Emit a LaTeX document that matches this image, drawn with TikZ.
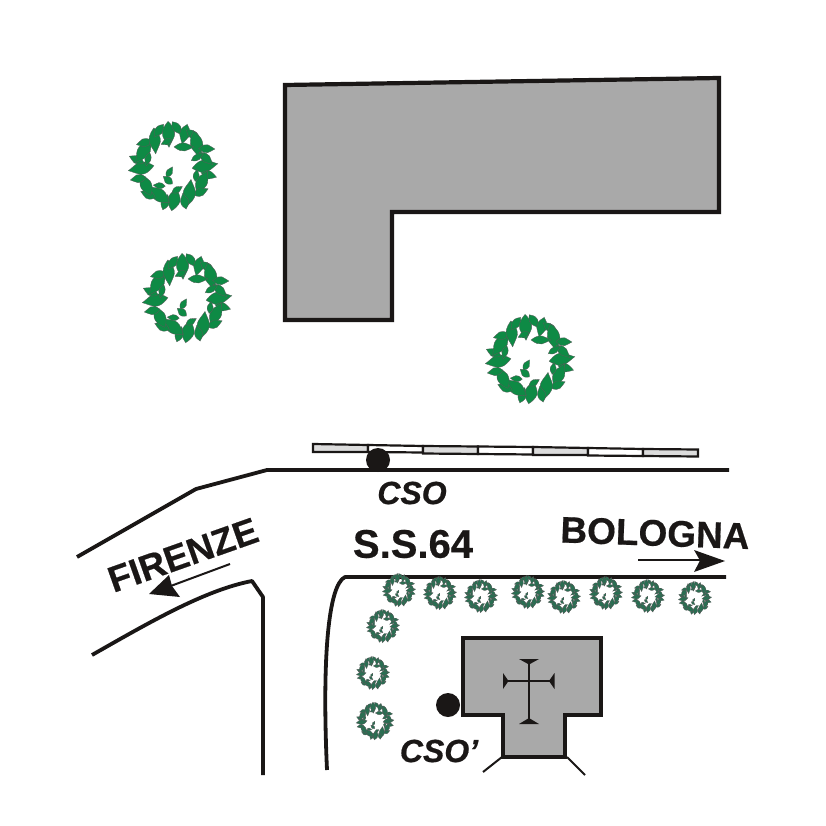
\documentclass[tikz,border=0pt]{standalone}
\usepackage{fontspec}
\setmainfont[BoldFeatures={FakeBold=0.5},BoldItalicFeatures={FakeBold=0.6}]{Liberation Sans}
\definecolor{bldg}{HTML}{A9A9A9}
\definecolor{ink}{HTML}{1A1716}
\definecolor{leafbig}{HTML}{0E8A45}
\definecolor{leafsmall}{HTML}{2A6E52}
\definecolor{strip}{HTML}{DCDCDC}
\newcommand{\leafat}[5]{%
  \path[leaf,shift={(#1:#2)},rotate=#1+#3] (-#4,0) .. controls (-#4*.5,#5) and (-#4*.2,#5*1.1) .. (#4*.1,#5) .. controls (#4*.4,#5*.8) and (#4*.7,#5*.3) .. (#4,0) .. controls (#4*.7,-#5*.3) and (#4*.4,-#5*.8) .. (#4*.1,-#5) .. controls (-#4*.2,-#5*1.1) and (-#4*.5,-#5) .. cycle;}
\tikzset{
  x=1pt,y=-1pt,
  roof/.style={draw=ink,line width=4.2pt,fill=bldg,line join=miter},
  road/.style={draw=ink,line width=3.8pt,line join=round},
  stripa/.style={draw=ink,line width=2.2pt,fill=strip},
  stripb/.style={draw=ink,line width=2.2pt,fill=white},
  spot/.style={circle,fill=ink,inner sep=0pt,minimum size=24pt},
  label/.style={font=\bfseries,text=ink,inner sep=0pt},
  arrowhead/.style={fill=ink,draw=none},
  thin line/.style={draw=ink,line width=2pt},
  pics/tree/.style n args={2}{code={
    \tikzset{leaf/.style={fill=#2,draw=gray!70!black,line width=.3pt}}
    \begin{scope}[scale=#1]
    \foreach \a/\r/\t/\l/\w in {
      0/32/10/13/6, 14/37/-30/8/4, 28/33/35/12/5.5, 43/38/-20/8/4, 58/31/25/13/6,
      72/37/30/8/4, 88/33/-10/12/6, 102/37/-30/8/4, 117/32/25/13/6, 131/38/25/8/4,
      146/33/-30/12/5.5, 160/37/30/8/4, 176/32/15/13/6, 190/37/-35/8/4, 205/33/30/13/6,
      219/37/-25/8/4, 234/31/40/13/5.5, 248/38/-15/8/4, 262/32/10/13/6, 276/38/30/8/4,
      290/34/-35/10/5, 304/37/20/9/4, 318/32/-35/14/6, 333/38/25/8/4, 347/34/-30/9/4,
      22/25/60/6/3, 80/24/-50/6/3, 125/24/50/6/3, 195/26/60/7/3, 255/25/-50/6/3, 300/22/60/10/4, 340/26/50/7/3}
      {\leafat{\a}{\r}{\t}{\l}{\w}}
    \leafat{120}{7}{-60}{6}{3}
    \leafat{110}{15}{30}{6}{3.5}
    \end{scope}
  }},
}
\begin{document}
\begin{tikzpicture}
\useasboundingbox (0,0) rectangle (826,826);
% main building
\draw[roof] (285,85) -- (719,78) -- (719,212) -- (392,212) -- (392,320) -- (285,320) -- cycle;
% large trees
\pic at (173,166) {tree={1}{leafbig}};
\pic at (187,298) {tree={1}{leafbig}};
\pic at (530,359) {tree={1}{leafbig}};
% strip of blocks
\draw[stripa] (313,444) -- (368,445) -- (368,452) -- (313,452) -- cycle;
\draw[stripb] (368,445) -- (423,446) -- (423,452.5) -- (368,452) -- cycle;
\draw[stripa] (423,446) -- (478,446.5) -- (478,454) -- (423,453.5) -- cycle;
\draw[stripb] (478,446.5) -- (533,447) -- (533,454.5) -- (478,454) -- cycle;
\draw[stripa] (533,447) -- (588,448) -- (588,455) -- (533,455) -- cycle;
\draw[stripb] (588,448) -- (643,449) -- (643,456) -- (588,455.5) -- cycle;
\draw[stripa] (643,449) -- (698,449.5) -- (698,456.5) -- (643,456) -- cycle;
% roads
\coordinate (ra) at (77,557); \coordinate (rb) at (196,489); \coordinate (rc) at (267,470); \coordinate (rd) at (729,470);
\draw[road] (ra) -- (rb) -- (rc) -- (rd);
\coordinate (re) at (345,577); \coordinate (rf) at (726,577); \coordinate (rg) at (327,770);
\draw[road] (rf) -- (re) .. controls (328,585) and (322,660) .. (rg);
\coordinate (rh) at (92,655); \coordinate (ri) at (252,581); \coordinate (rj) at (263,597); \coordinate (rk) at (263,775);
\draw[road] (rh) .. controls (150,622) and (205,590) .. (ri) -- (rj) -- (rk);
% CSO
\node[spot] (cso) at (378,460) {};
\node[label,font=\bfseries\itshape\fontsize{32}{32}\selectfont] (csolab) at (412,493) {CSO};
% small trees
\foreach \x/\y in {399/590,440/593,481/596,528/592,564/597,606/593,648/596,695/598,383/626,373/673}
  {\pic at (\x,\y) {tree={.37}{leafsmall}};}
\pic at (375,721) {tree={.42}{leafsmall}};
% church
\draw[roof] (463,638) -- (601,638) -- (601,715) -- (565,715) -- (565,757) -- (503,757) -- (503,715) -- (463,715) -- cycle;
\coordinate (cta) at (529,660); \coordinate (ctb) at (529,723); \coordinate (cla) at (504,681); \coordinate (clb) at (554,681);
\draw[thin line] (cta) -- (ctb);
\draw[thin line] (cla) -- (clb);
\fill[ink] (519,659) -- (539,659) -- (529,664.5) -- cycle;
\fill[ink] (519,724) -- (539,724) -- (529,718) -- cycle;
\fill[ink] (503,673) -- (503,689) -- (508.5,681) -- cycle;
\fill[ink] (554.5,673) -- (554.5,689) -- (549,681) -- cycle;
\coordinate (da) at (502,757); \coordinate (db) at (483,772); \coordinate (dc) at (567,757); \coordinate (dd) at (585,775);
\draw[thin line] (da) -- (db);
\draw[thin line] (dc) -- (dd);
\node[spot] (csop) at (448,705) {};
\node[label,font=\bfseries\itshape\fontsize{32}{32}\selectfont] (csoplab) at (439,751) {CSO’};
% road names
\node[label,font=\bfseries\fontsize{40}{40}\selectfont] (ss) at (413,544) {S.S.64};
\node[label,font=\bfseries\fontsize{37}{37}\selectfont,rotate=-2] (bo) at (655,533) {BOLOGNA};
\node[label,font=\bfseries\fontsize{36.5}{36.5}\selectfont,rotate=19.5] (fi) at (183,555) {FIRENZE};
% arrows
\coordinate (ba) at (638,560); \coordinate (bb) at (700,560);
\draw[thin line] (ba) -- (bb);
\path[arrowhead] (725,561) -- (694,550) -- (700,560.5) -- (694,572) -- cycle;
\coordinate (fa) at (230,564); \coordinate (fb) at (168,587);
\draw[thin line] (fa) -- (fb);
\path[arrowhead] (149,594) -- (169,575) -- (172,586) -- (180,597) -- cycle;
\end{tikzpicture}
\end{document}
